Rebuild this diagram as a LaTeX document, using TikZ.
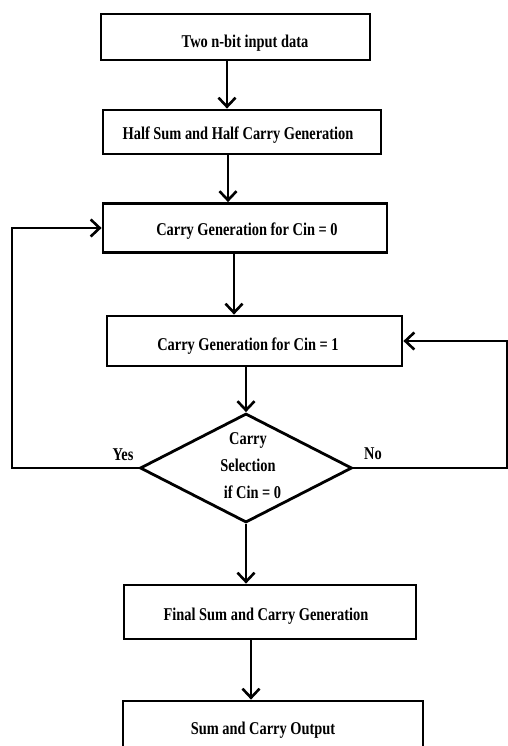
\documentclass[tikz,border=0pt]{standalone}
\usepackage{fontspec}
\setmainfont{Liberation Serif}[FakeStretch=0.8]
\usetikzlibrary{arrows.meta,shapes.geometric}
\begin{document}
\begin{tikzpicture}[x=1pt,y=-1pt,
  line width=2.8pt,
  font=\fontsize{18}{27}\selectfont\bfseries,
  stepbox/.style={draw, rectangle, inner sep=0pt},
  decide/.style={draw, diamond, inner sep=0pt},
  flow/.style={-{Straight Barb[length=9pt,width=17pt,line width=2.6pt]}},
  tag/.style={font=\fontsize{18}{20}\selectfont\bfseries}]
\clip (0,0) rectangle (508,746);
\fill[white] (0,0) rectangle (508,746);

% process steps
\node[stepbox, minimum width=269pt, minimum height=46pt] (b1) at (235.5,37) {};
\node (t1) at (245,43) {Two n-bit input data};
\node[stepbox, minimum width=278pt, minimum height=44pt] (b2) at (242,132) {};
\node (t2) at (238,135) {Half Sum and Half Carry Generation};
\node[stepbox, minimum width=284pt, minimum height=49pt] (b3) at (245,228) {};
\node (t3) at (247,231) {Carry Generation for Cin = 0};
\node[stepbox, minimum width=295pt, minimum height=50pt] (b4) at (254.5,341) {};
\node (t4) at (248,346) {Carry Generation for Cin = 1};
\node[decide, minimum width=212pt, minimum height=109pt] (d) at (246,468) {};
\node[align=center] (td) at (248,466) {Carry\\Selection\\\hspace{9pt}if Cin = 0};
\node[stepbox, minimum width=292pt, minimum height=54pt] (b5) at (270,612) {};
\node (t5) at (266,616) {Final Sum and Carry Generation};
\node[stepbox, minimum width=300pt, minimum height=64pt] (b6) at (273,733) {};
\node (t6) at (263,730) {Sum and Carry Output};

% branch labels
\node[tag] (yes) at (123,455) {Yes};
\node[tag] (no) at (373,454) {No};

% vertical flow
\coordinate (x1) at (227,0);
\coordinate (x2) at (228,0);
\coordinate (x3) at (234,0);
\coordinate (x5) at (251,0);
\draw[flow] (b1.south -| x1) -- (b2.north -| x1);
\draw[flow] (b2.south -| x2) -- (b3.north -| x2);
\draw[flow] (b3.south -| x3) -- (b4.north -| x3);
\draw[flow] (b4.south -| d.north) -- (d.north);
\draw[flow] (d.south) -- (b5.north -| d.south);
\draw[flow] (b5.south -| x5) -- (b6.north -| x5);

% feedback loops
\coordinate (yesCorner) at (12,468);
\coordinate (noCorner) at (507,468);
\draw[flow] (d.west) -- (yesCorner) |- (b3.west);
\draw[flow] (d.east) -- (noCorner) |- (b4.east);
\end{tikzpicture}
\end{document}
